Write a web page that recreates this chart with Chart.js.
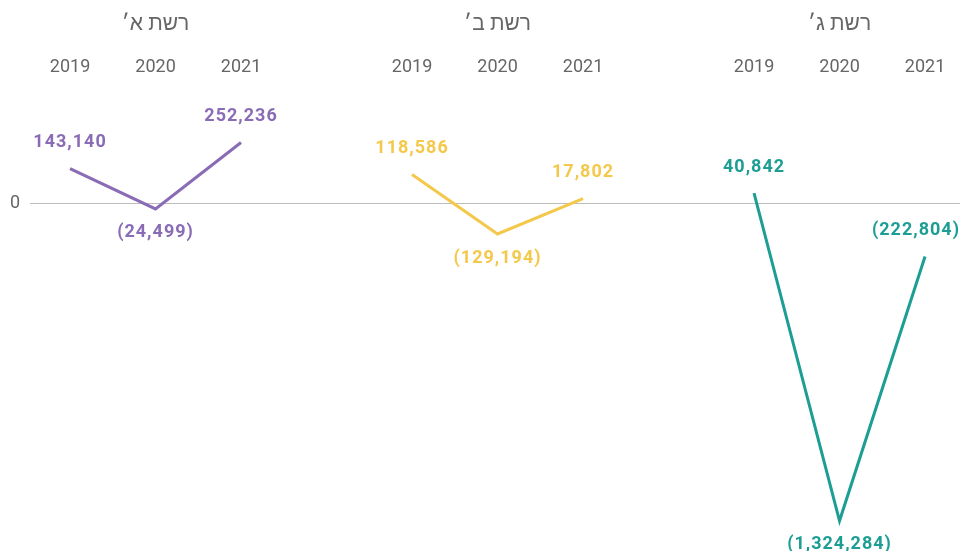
<!DOCTYPE html>
<html>
<head>
<meta charset="utf-8">
<script src="https://cdn.jsdelivr.net/npm/chart.js@4/dist/chart.umd.min.js"></script>
<style>
  html, body { margin: 0; padding: 0; background: #ffffff; }
  #wrap { width: 960px; height: 551px; position: relative; }
</style>
</head>
<body>
<div id="wrap"><canvas id="c"></canvas></div>
<script>
// ---- data ----
const panelTitles = ['רשת א׳', 'רשת ב׳', 'רשת ג׳'];
const years = ['2019', '2020', '2021'];
const seriesA = [143140, -24499, 252236];
const seriesB = [118586, -129194, 17802];
const seriesC = [40842, -1324284, -222804];
const seriesColors = ['#8a6bb5', '#f4c84a', '#1d9e94'];

// ---- build ----
const allSeries = [seriesA, seriesB, seriesC];
const slotsPerPanel = years.length + 1; // one empty slot between panels
const yearTickLabels = {};
const titleTickLabels = {};
allSeries.forEach((s, p) => {
  years.forEach((y, i) => { yearTickLabels[p * slotsPerPanel + i] = y; });
  titleTickLabels[p * slotsPerPanel + 1] = panelTitles[p];
});
const datasets = allSeries.map((s, p) => ({
  label: panelTitles[p],
  data: s.map((v, i) => ({ x: p * slotsPerPanel + i, y: v })),
  borderColor: seriesColors[p],
  backgroundColor: seriesColors[p],
  borderWidth: 3,
  pointRadius: 0,
  tension: 0,
  xAxisID: 'x',
  yAxisID: 'y'
}));

const fontFamily = "Roboto, 'Liberation Sans', 'DejaVu Sans', sans-serif";

function fmt(v) {
  const s = Math.abs(v).toLocaleString('en-US');
  return v < 0 ? '(' + s + ')' : s;
}

const valueLabels = {
  id: 'valueLabels',
  afterDatasetsDraw(chart) {
    const ctx = chart.ctx;
    ctx.save();
    ctx.font = "bold 18px " + fontFamily;
    try { ctx.letterSpacing = '1px'; } catch (e) {}
    ctx.textBaseline = 'middle';
    ctx.textAlign = 'center';
    chart.data.datasets.forEach((ds, di) => {
      const meta = chart.getDatasetMeta(di);
      meta.data.forEach((pt, i) => {
        const v = ds.data[i].y;
        const txt = fmt(v);
        const w = ctx.measureText(txt).width;
        let x = pt.x;
        if (x + w / 2 > chart.width) x = chart.width - w / 2;
        const below = (i === 1);
        const y = below ? pt.y + 24 : pt.y - 26;
        ctx.fillStyle = ds.borderColor;
        ctx.fillText(txt, x, y);
      });
    });
    ctx.restore();
  }
};

const xMin = -0.468;
const xMax = 10.409;

function noPad(scale) {
  scale.paddingLeft = 0;
  scale.paddingRight = 0;
  scale.paddingTop = 0;
  scale.paddingBottom = 0;
}

new Chart(document.getElementById('c'), {
  type: 'line',
  data: { datasets },
  plugins: [valueLabels],
  options: {
    responsive: true,
    maintainAspectRatio: false,
    animation: false,
    layout: { padding: { left: 0, right: 0, top: 0, bottom: 12 } },
    plugins: { legend: { display: false }, tooltip: { enabled: false } },
    scales: {
      x: {
        type: 'linear',
        position: 'top',
        min: xMin,
        max: xMax,
        weight: 0,
        grid: { display: false },
        border: { display: false },
        afterBuildTicks(scale) {
          scale.ticks = Object.keys(yearTickLabels).map(k => ({ value: +k }));
        },
        afterFit(scale) { scale.height = 61; noPad(scale); },
        ticks: {
          autoSkip: false,
          maxRotation: 0,
          padding: 21,
          color: '#666666',
          font: { family: fontFamily, size: 18 },
          callback: (v) => yearTickLabels[v] || ''
        }
      },
      x2: {
        type: 'linear',
        position: 'top',
        min: xMin,
        max: xMax,
        weight: 1,
        grid: { display: false },
        border: { display: false },
        afterBuildTicks(scale) {
          scale.ticks = Object.keys(titleTickLabels).map(k => ({ value: +k }));
        },
        afterFit(scale) { scale.height = 46; noPad(scale); },
        ticks: {
          autoSkip: false,
          maxRotation: 0,
          padding: 1,
          color: '#666666',
          font: { family: fontFamily, size: 21 },
          callback: (v) => titleTickLabels[v] || ''
        }
      },
      y: {
        type: 'linear',
        position: 'left',
        min: -1400000,
        max: 400000,
        afterBuildTicks(scale) { scale.ticks = [{ value: 0 }]; },
        afterFit(scale) { scale.width = 30; noPad(scale); },
        grid: { drawTicks: false, color: '#bdbdbd', lineWidth: 1 },
        border: { display: false },
        ticks: {
          padding: 10,
          color: '#666666',
          font: { family: fontFamily, size: 18 },
          callback: (v) => String(v)
        }
      }
    }
  }
});
</script>
</body>
</html>
